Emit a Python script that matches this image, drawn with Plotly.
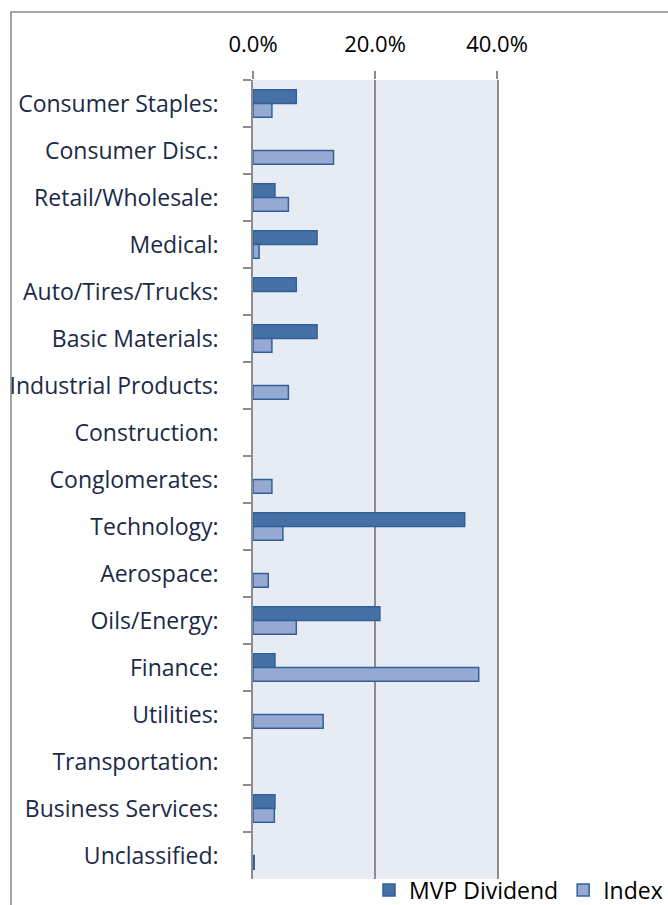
import plotly.graph_objects as go

categories = ["Consumer Staples:", "Consumer Disc.:", "Retail/Wholesale:", "Medical:",
              "Auto/Tires/Trucks:", "Basic Materials:", "Industrial Products:", "Construction:",
              "Conglomerates:", "Technology:", "Aerospace:", "Oils/Energy:", "Finance:",
              "Utilities:", "Transportation:", "Business Services:", "Unclassified:"]
mvp_dividend = [7.1, 0.0, 3.6, 10.5, 7.1, 10.5, 0.0, 0.0, 0.0, 34.7, 0.0, 20.8, 3.6, 0.0, 0.0, 3.6, 0.0]
index_vals = [3.1, 13.2, 5.8, 1.0, 0.0, 3.1, 5.8, 0.0, 3.1, 4.9, 2.5, 7.1, 37.0, 11.5, 0.0, 3.5, 0.2]
x_ticks = [0, 20, 40]
x_tick_labels = ["0.0%", "20.0%", "40.0%"]

FONT = "Open Sans"
TXT = "#1b2a47"
GRID = "#8c8c8c"


def nz(vals):
    return [v if v > 0 else None for v in vals]


fig = go.Figure()
fig.add_trace(go.Bar(y=categories, x=nz(mvp_dividend), orientation="h", name="MVP Dividend",
                     marker=dict(color="#4571a6", line=dict(color="#30609a", width=1.5))))
fig.add_trace(go.Bar(y=categories, x=nz(index_vals), orientation="h", name="Index",
                     marker=dict(color="#95a9d2", line=dict(color="#30609a", width=1.5))))

W, H = 668, 905
L, R, T, B = 253, 497, 80, 879
pw, ph = R - L, B - T
fig.update_layout(
    width=W, height=H,
    margin=dict(l=L, r=W - R, t=T, b=H - B, pad=0, autoexpand=False),
    paper_bgcolor="white", plot_bgcolor="#e7ecf4",
    barmode="group", bargap=0.42, bargroupgap=0.0,
    font=dict(family=FONT, size=23, color=TXT),
    showlegend=True,
    legend=dict(orientation="h", x=(668 - L) / pw, xanchor="right",
                y=(B - 890) / ph, yanchor="middle",
                font=dict(family=FONT, size=23, color="black"),
                bgcolor="rgba(0,0,0,0)", traceorder="normal",
                itemwidth=30, tracegroupgap=0),
    xaxis=dict(side="top", range=[0, 40], tickvals=x_ticks, ticktext=x_tick_labels,
               showgrid=True, gridcolor=GRID, gridwidth=1.5, zeroline=False,
               ticks="outside", ticklen=8, tickcolor=GRID, tickwidth=1.5,
               ticklabelstandoff=10,
               tickfont=dict(family=FONT, size=22, color="black"),
               showline=False, fixedrange=True),
    yaxis=dict(categoryorder="array", categoryarray=categories, autorange="reversed",
               ticks="outside", ticklen=8, tickcolor=GRID, tickwidth=1.5,
               tickson="boundaries", showgrid=False,
               showline=True, linecolor=GRID, linewidth=1.5, mirror=True,
               ticklabelstandoff=28,
               tickfont=dict(family=FONT, size=23, color=TXT)),
)

fig.add_shape(type="rect", xref="paper", yref="paper",
              x0=(11 - L) / pw, x1=(W + 20 - L) / pw,
              y0=(B - (H + 20)) / ph, y1=(B - 12) / ph,
              line=dict(color="#878787", width=1.5), fillcolor="rgba(0,0,0,0)", layer="below")

fig.write_html("out.html")
